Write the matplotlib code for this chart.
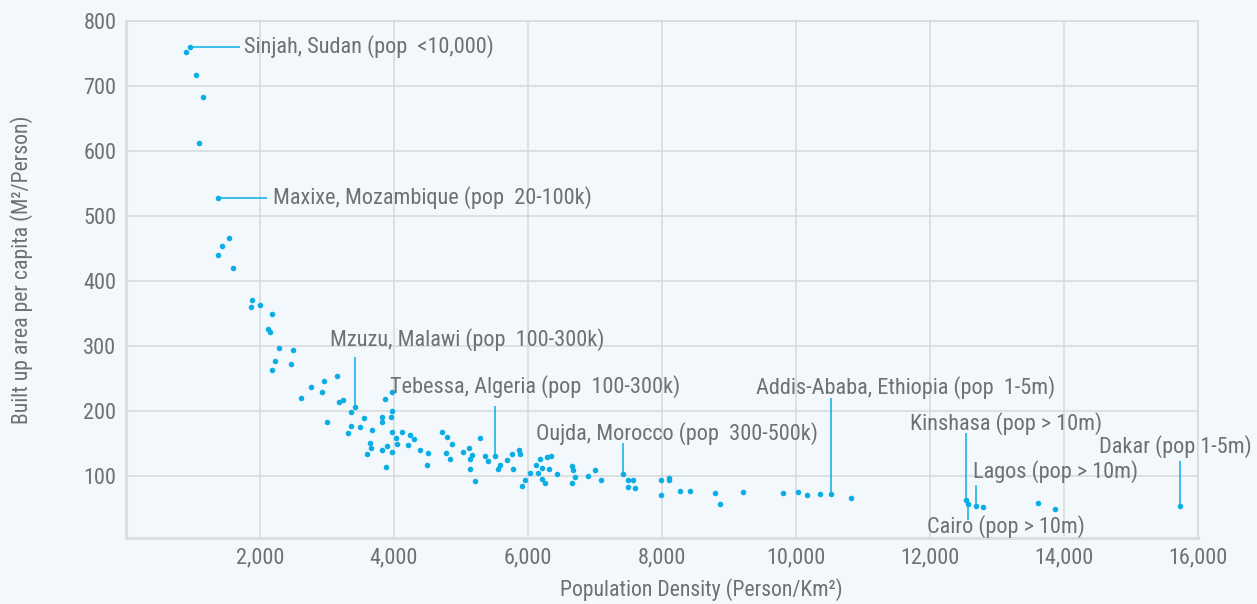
import matplotlib
matplotlib.use("Agg")
import matplotlib.pyplot as plt
import matplotlib.patheffects as pe
from matplotlib import font_manager as fm

plt.rcParams['font.family'] = ['Roboto Condensed', 'Roboto', 'DejaVu Sans']

# population density (person/km2) and built up area per capita (m2/person)
density = [962, 902, 1051, 1145, 1086, 1369, 1533, 1440, 1380, 1593,
           1887, 1861, 1995, 2174, 2115, 2155, 2279, 2492, 2224, 2458,
           2174, 2617, 2767, 2950, 2930, 3144, 3005, 3179, 3234, 3422,
           3357, 3357, 3313, 3487, 3557, 3676, 3646, 3661, 3591, 3870,
           3969, 3825, 3825, 3964, 3959, 3969, 4034, 4113, 4039, 3890,
           3820, 3969, 3885, 4237, 4297, 4203, 4392, 4501, 4491, 4720,
           4789, 4859, 4774, 4829, 5033, 5123, 5162, 5138, 5128, 5207,
           5287, 5356, 5396, 5500, 5579, 5545, 5684, 5754, 5773, 5873,
           5888, 5913, 5952, 6027, 6122, 6186, 6142, 6211, 6306, 6291,
           6350, 6211, 6261, 6440, 6654, 6674, 6708, 6654, 6898, 6997,
           7096, 7424, 7499, 7568, 7499, 7599, 7991, 8100, 8100, 7991,
           8274, 8419, 8796, 8866, 9214, 9810, 10034, 10158, 10358, 10516,
           10824, 12535, 12565, 12689, 12793, 13609, 13863, 15736]
area = [760, 752, 717, 683, 612, 528, 466, 453, 440, 420,
        370, 359, 362, 349, 326, 321, 296, 293, 277, 272,
        262, 220, 237, 246, 229, 254, 182, 214, 216, 206,
        198, 176, 165, 175, 189, 171, 150, 142, 134, 218,
        229, 190, 183, 200, 190, 167, 158, 167, 148, 145,
        140, 137, 113, 162, 157, 147, 140, 135, 117, 167,
        160, 148, 135, 126, 136, 142, 132, 126, 110, 92,
        158, 130, 122, 130, 116, 111, 124, 133, 110, 139,
        133, 84, 94, 104, 117, 125, 104, 112, 110, 128,
        130, 95, 89, 103, 115, 109, 98, 88, 100, 109,
        93, 102, 94, 94, 83, 81, 93, 97, 93, 70,
        77, 76, 74, 57, 75, 74, 75, 70, 71, 71,
        65, 63, 56, 53, 52, 58, 49, 53]

labels = ["Sinjah, Sudan (pop  <10,000)", "Maxixe, Mozambique (pop  20-100k)",
          "Mzuzu, Malawi (pop  100-300k)", "Tebessa, Algeria (pop  100-300k)",
          "Oujda, Morocco (pop  300-500k)", "Addis-Ababa, Ethiopia (pop  1-5m)",
          "Kinshasa (pop > 10m)", "Lagos (pop > 10m)", "Cairo (pop > 10m)",
          "Dakar (pop 1-5m)"]
label_point = [0, 5, 29, 73, 101, 119, 121, 123, 122, 127]
# end of leader line and text anchor (data coords)
line_end = [(1700, 760), (2100, 528), (3422, 282), (5500, 208), (7424, 150),
            (10516, 220), (12535, 165), (12689, 86), (12565, 32), (15736, 123)]
text_pos = [(1757, 761), (2190, 528), (3039, 309), (3934, 238), (6112, 165),
            (9407, 235), (11705, 180), (12644, 106), (11958, 22), (14523, 145)]

bg = '#f2f8fc'
dot = '#0aaee4'
txt = '#6e7072'
grid = '#d6d9dc'

# only the light cut of Roboto Condensed may be installed: thicken it a bit then
weights = [f.weight for f in fm.fontManager.ttflist if f.name == 'Roboto Condensed']
has_regular = any(w in (400, 'normal', 'regular') for w in weights)
fx = [] if has_regular else [pe.withStroke(linewidth=0.6, foreground=txt)]

fig = plt.figure(figsize=(12.57, 6.04), dpi=100, facecolor=bg)
ax = fig.add_axes([126 / 1257, 1 - 538 / 604, (1198 - 126) / 1257, (538 - 21) / 604])
ax.set_facecolor(bg)

ax.scatter(density, area, s=16, color=dot, linewidths=0, zorder=3)

for i, lab in enumerate(labels):
    p = label_point[i]
    ax.plot([density[p], line_end[i][0]], [area[p], line_end[i][1]],
            color=dot, lw=1.1, zorder=2, solid_capstyle='butt')
    ax.text(text_pos[i][0], text_pos[i][1], lab, ha='left', va='center',
            fontsize=16, color=txt, zorder=4, path_effects=fx)

ax.set_xlim(0, 16000)
ax.set_ylim(4, 800)
ax.set_xticks(range(2000, 16001, 2000))
ax.set_xticklabels([f"{v:,}" for v in range(2000, 16001, 2000)])
ax.set_yticks(range(100, 801, 100))
ax.tick_params(length=0, labelsize=16, labelcolor=txt, pad=7)
for t in ax.get_xticklabels() + ax.get_yticklabels():
    t.set_path_effects(fx)
ax.grid(True, color=grid, lw=1.1)
ax.set_axisbelow(True)
for s in ['top', 'right']:
    ax.spines[s].set_color(grid)
    ax.spines[s].set_linewidth(1.1)
for s in ['left', 'bottom']:
    ax.spines[s].set_color('#dcdfe2')
    ax.spines[s].set_linewidth(2.2)

fig.text(701 / 1257, 1 - 590 / 604, "Population Density (Person/Km²)", fontsize=15.7,
         color=txt, ha='center', va='center', path_effects=fx)
fig.text(22 / 1257, 1 - 270 / 604, "Built up area per capita (M²/Person)", fontsize=15.7,
         color=txt, ha='center', va='center', rotation=90, path_effects=fx)

fig.savefig("out.png", dpi=100, facecolor=bg)
